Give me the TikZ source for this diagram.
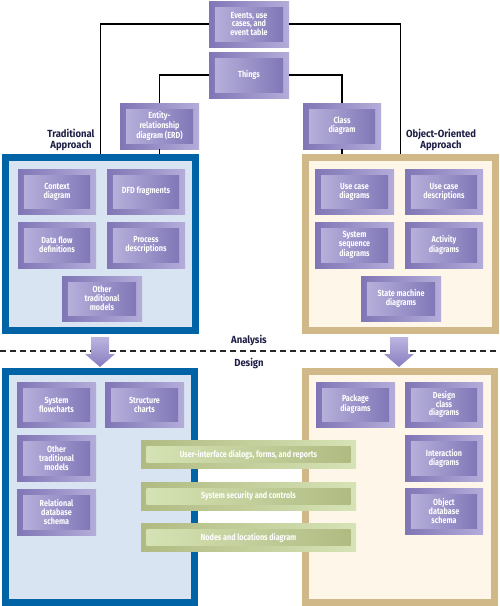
\documentclass[tikz,border=0pt]{standalone}
\usepackage{fontspec}
\setmainfont{Fira Sans}[FakeStretch=0.82]
\newfontfamily\lblfont{Fira Sans}[FakeStretch=0.92]
\definecolor{pOutL}{HTML}{8076B6}
\definecolor{pOutR}{HTML}{B4ADDA}
\definecolor{pInL}{HTML}{B6B0DB}
\definecolor{pInR}{HTML}{8077B7}
\definecolor{gOutL}{HTML}{B0BA82}
\definecolor{gOutR}{HTML}{D6E3B5}
\definecolor{gInL}{HTML}{D5E3B4}
\definecolor{gInR}{HTML}{B0BB82}
\definecolor{tblue}{HTML}{0063A6}
\definecolor{tfill}{HTML}{D9E4F2}
\definecolor{otan}{HTML}{D0B888}
\definecolor{ofill}{HTML}{FDF6E9}
\definecolor{navy}{HTML}{1E1E46}
\definecolor{arrTop}{HTML}{BDB5E0}
\definecolor{arrBot}{HTML}{877DBF}
\begin{document}
\begin{tikzpicture}[x=1pt,y=-1pt,
  boxtext/.style={align=center, text=white, inner sep=1pt,
    font=\bfseries\fontsize{8.8}{8.9}\selectfont},
  pbox/.style={rectangle, boxtext, minimum width=#1,
    path picture={
      \shade[left color=pOutL, right color=pOutR] (path picture bounding box.north west) rectangle (path picture bounding box.south east);
      \shade[left color=pInL, right color=pInR] ([shift={(6pt,-6pt)}]path picture bounding box.north west) rectangle ([shift={(-6pt,6pt)}]path picture bounding box.south east);}},
  pbox/.default=79,
  gbar/.style={rectangle, boxtext, minimum width=215, minimum height=28,
    path picture={
      \shade[left color=gOutL, right color=gOutR] (path picture bounding box.north west) rectangle (path picture bounding box.south east);
      \shade[left color=gInL, right color=gInR] ([shift={(5.5pt,-6pt)}]path picture bounding box.north west) rectangle ([shift={(-5.5pt,6pt)}]path picture bounding box.south east);}},
  tpanel/.style={rectangle, draw=tblue, fill=tfill, line width=7pt},
  opanel/.style={rectangle, draw=otan, fill=ofill, line width=7pt},
  lbl/.style={align=center, text=navy, inner sep=1pt,
    font=\lblfont\bfseries\fontsize{10.3}{11}\selectfont},
  conn/.style={draw=black, line width=1.1pt},
  sep/.style={draw=black!85, line width=1.1pt, dash pattern=on 6pt off 4pt},
  downarrow/.pic={\shade[top color=arrTop, bottom color=arrBot]
    (-9,0) -- (9,0) -- (9,17) -- (15,17) -- (0,30) -- (-15,17) -- (-9,17) -- cycle;}
]
\useasboundingbox (0,0) rectangle (500,606);

% panels
\node[tpanel, minimum width=190, minimum height=173] (tp) at (100.5,244) {};
\node[opanel, minimum width=190, minimum height=173] (op) at (400.5,244) {};
\node[tpanel, minimum width=189, minimum height=231] (tpd) at (100,487) {};
\node[opanel, minimum width=189, minimum height=231] (opd) at (400,487) {};

% top boxes
\node[pbox=80, minimum height=46] (ev) at (249,24) {Events, use\\cases, and\\event table};
\node[pbox=80, minimum height=46] (th) at (249,75) {Things};
\node[pbox=79, minimum height=46] (erd) at (159.5,126) {Entity-\\relationship\\diagram (ERD)};
\node[pbox=78, minimum height=46] (cls) at (342,126) {Class\\diagram};

% connectors
\draw[conn] (ev.west) -| (tp.north);
\draw[conn] (ev.east) -| (op.north);
\draw[conn] (th.west) -| (erd.north);
\draw[conn] (th.east) -| (cls.north);
\draw[conn] (erd.south) -- (erd.south |- tp.north);
\draw[conn] (cls.south) -- (cls.south |- op.north);

% labels
\node[lbl] (tl) at (71,140) {Traditional\\Approach};
\node[lbl] (ol) at (441,140) {Object-Oriented\\Approach};

% analysis traditional
\node[pbox=78, minimum height=45] (ctx) at (57,191.5) {Context\\diagram};
\node[pbox=78, minimum height=45] (dfd) at (146,191.5) {DFD fragments};
\node[pbox=78, minimum height=46] (dfdef) at (57,245) {Data flow\\definitions};
\node[pbox=78, minimum height=46] (proc) at (146,245) {Process\\descriptions};
\node[pbox=80, minimum height=45] (oth1) at (102,298.5) {Other\\traditional\\models};

% analysis OO
\node[pbox=79, minimum height=45] (ucd) at (354.5,191.5) {Use case\\diagrams};
\node[pbox=78, minimum height=45] (ucdesc) at (444,191.5) {Use case\\descriptions};
\node[pbox=79, minimum height=46] (ssd) at (354.5,245) {System\\sequence\\diagrams};
\node[pbox=78, minimum height=46] (act) at (444,245) {Activity\\diagrams};
\node[pbox=80, minimum height=45] (sm) at (401,298.5) {State machine\\diagrams};

% analysis / design
\node[lbl] (an) at (249,340) {Analysis};
\coordinate (sl) at (0,351);
\coordinate (sr) at (500,351);
\draw[sep] (sl) -- (sr);
\node[lbl] (de) at (249,363) {Design};
\pic at (100,337) {downarrow};
\pic at (399,337) {downarrow};

% design traditional
\node[pbox=79, minimum height=45] (sf) at (56.5,404.5) {System\\flowcharts};
\node[pbox=79, minimum height=45] (sc) at (144.5,404.5) {Structure\\charts};
\node[pbox=79, minimum height=46] (oth2) at (56.5,458) {Other\\traditional\\models};
\node[pbox=79, minimum height=46] (rdb) at (56.5,512) {Relational\\database\\schema};

% design OO
\node[pbox=79, minimum height=45] (pkg) at (355.5,404.5) {Package\\diagrams};
\node[pbox=78, minimum height=45] (dcd) at (444,404.5) {Design\\class\\diagrams};
\node[pbox=78, minimum height=46] (inter) at (444,458) {Interaction\\diagrams};
\node[pbox=78, minimum height=46] (odb) at (444,511) {Object\\database\\schema};

% shared bars
\node[gbar] (ui) at (248.5,454.5) {User-interface dialogs, forms, and reports};
\node[gbar] (sec) at (248.5,496) {System security and controls};
\node[gbar] (nod) at (248.5,537.5) {Nodes and locations diagram};
\end{tikzpicture}
\end{document}
